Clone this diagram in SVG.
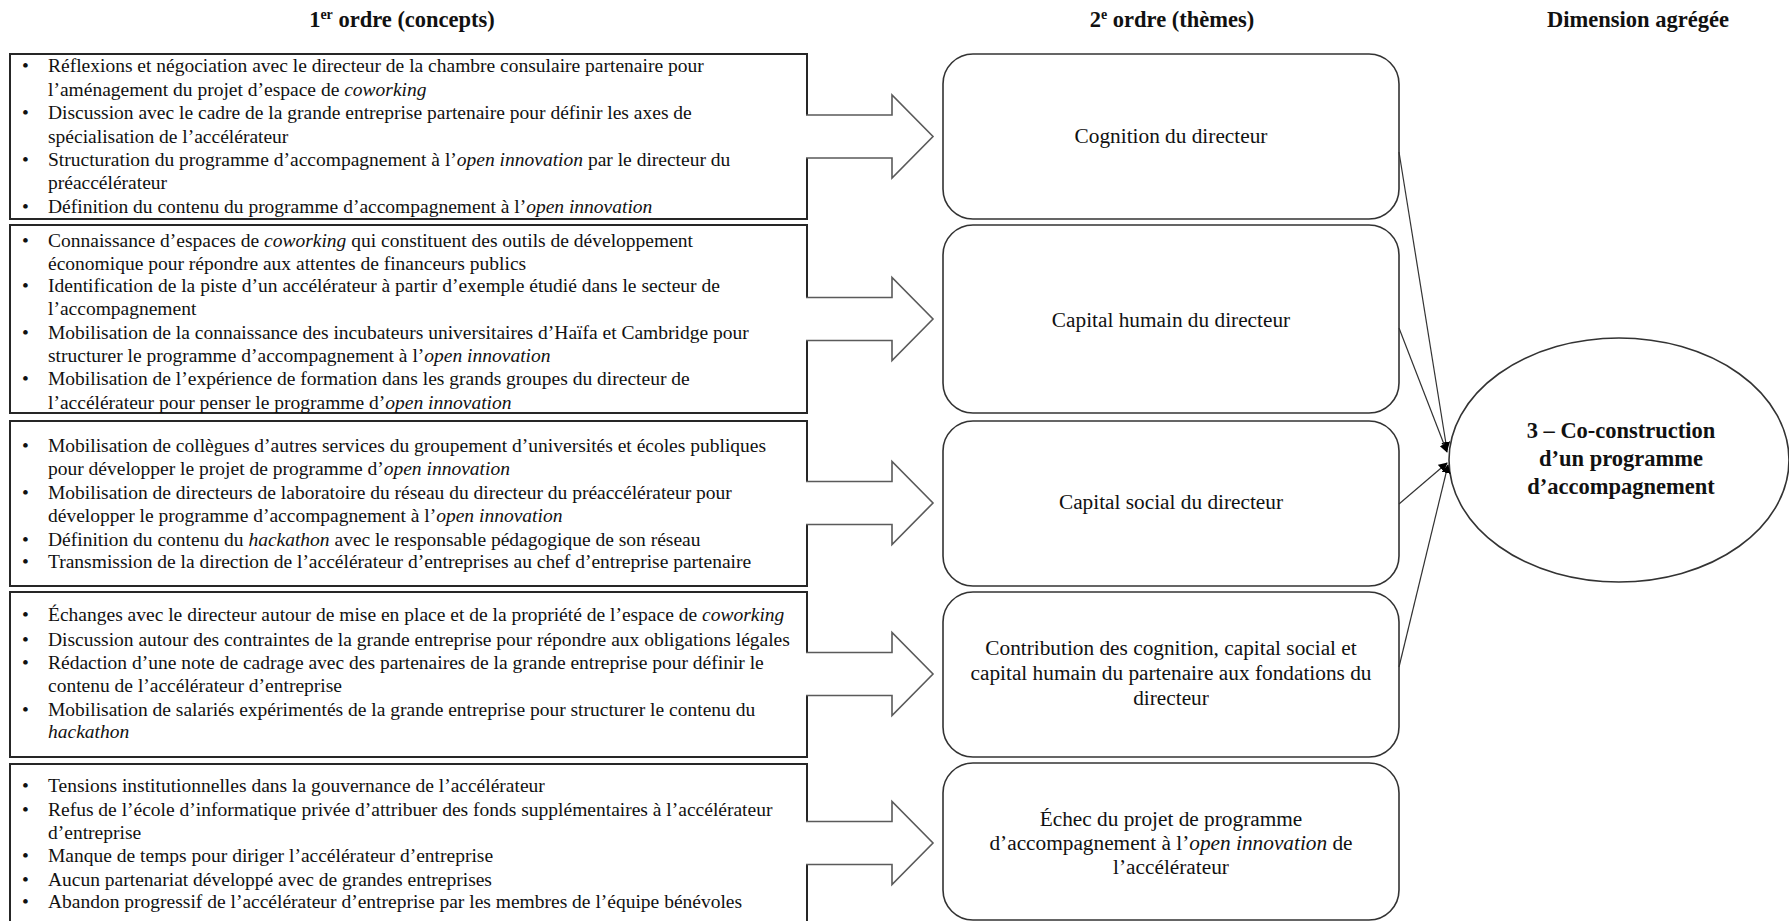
<svg xmlns="http://www.w3.org/2000/svg" width="1789" height="921" viewBox="0 0 1789 921">
  <style>
    .bg { fill: #ffffff; }
    .concept { fill: #ffffff; stroke: #262626; stroke-width: 2; }
    .theme { fill: #ffffff; stroke: #333333; stroke-width: 1.6; }
    .dim { fill: #ffffff; stroke: #333333; stroke-width: 1.6; }
    .blockarrow { fill: #ffffff; stroke: #5a5a5a; stroke-width: 1.6; }
    .link { fill: none; stroke: #333333; stroke-width: 1.2; }
    text { font-family: "Liberation Serif", "Times New Roman", serif; fill: #111111; }
    .head { font-size: 22.5px; font-weight: bold; text-anchor: middle; }
    .body { font-size: 19.5px; }
    .tl { font-size: 21.3px; text-anchor: middle; }
    .agg { font-size: 22.5px; font-weight: bold; text-anchor: middle; }
    .it { font-style: italic; }
  </style>
  <defs>
    <marker id="tip" viewBox="0 0 10 10" refX="9" refY="5" markerWidth="9" markerHeight="9" markerUnits="userSpaceOnUse" orient="auto">
      <path d="M0,0 L10,5 L0,10 Z" fill="#000000"/>
    </marker>
  </defs>

  <rect class="bg" x="0" y="0" width="1789" height="921"/>

  <!-- column headings -->
  <g id="headings">
    <text class="head" x="402" y="27">1<tspan font-size="14px" dy="-8">er</tspan><tspan dy="8"> ordre (concepts)</tspan></text>
    <text class="head" x="1172" y="27">2<tspan font-size="14px" dy="-8">e</tspan><tspan dy="8"> ordre (thèmes)</tspan></text>
    <text class="head" x="1638" y="27">Dimension agrégée</text>
  </g>

  <!-- first-order concepts -->
  <g id="concept-1">
    <rect class="concept" x="10" y="54" width="797" height="165"/>
    <g class="body">
      <text x="22" y="72">•</text><text x="48" y="72">Réflexions et négociation avec le directeur de la chambre consulaire partenaire pour</text>
      <text x="48" y="96">l’aménagement du projet d’espace de <tspan class="it">coworking</tspan></text>
      <text x="22" y="119">•</text><text x="48" y="119">Discussion avec le cadre de la grande entreprise partenaire pour définir les axes de</text>
      <text x="48" y="143">spécialisation de l’accélérateur</text>
      <text x="22" y="166">•</text><text x="48" y="166">Structuration du programme d’accompagnement à l’<tspan class="it">open innovation</tspan> par le directeur du</text>
      <text x="48" y="189">préaccélérateur</text>
      <text x="22" y="213">•</text><text x="48" y="213">Définition du contenu du programme d’accompagnement à l’<tspan class="it">open innovation</tspan></text>
    </g>
  </g>

  <g id="concept-2">
    <rect class="concept" x="10" y="225" width="797" height="188"/>
    <g class="body">
      <text x="22" y="247">•</text><text x="48" y="247">Connaissance d’espaces de <tspan class="it">coworking</tspan> qui constituent des outils de développement</text>
      <text x="48" y="270">économique pour répondre aux attentes de financeurs publics</text>
      <text x="22" y="292">•</text><text x="48" y="292">Identification de la piste d’un accélérateur à partir d’exemple étudié dans le secteur de</text>
      <text x="48" y="315">l’accompagnement</text>
      <text x="22" y="339">•</text><text x="48" y="339">Mobilisation de la connaissance des incubateurs universitaires d’Haïfa et Cambridge pour</text>
      <text x="48" y="362">structurer le programme d’accompagnement à l’<tspan class="it">open innovation</tspan></text>
      <text x="22" y="385">•</text><text x="48" y="385">Mobilisation de l’expérience de formation dans les grands groupes du directeur de</text>
      <text x="48" y="409">l’accélérateur pour penser le programme d’<tspan class="it">open innovation</tspan></text>
    </g>
  </g>

  <g id="concept-3">
    <rect class="concept" x="10" y="421" width="797" height="165"/>
    <g class="body">
      <text x="22" y="452">•</text><text x="48" y="452">Mobilisation de collègues d’autres services du groupement d’universités et écoles publiques</text>
      <text x="48" y="475">pour développer le projet de programme d’<tspan class="it">open innovation</tspan></text>
      <text x="22" y="499">•</text><text x="48" y="499">Mobilisation de directeurs de laboratoire du réseau du directeur du préaccélérateur pour</text>
      <text x="48" y="522">développer le programme d’accompagnement à l’<tspan class="it">open innovation</tspan></text>
      <text x="22" y="546">•</text><text x="48" y="546">Définition du contenu du <tspan class="it">hackathon</tspan> avec le responsable pédagogique de son réseau</text>
      <text x="22" y="568">•</text><text x="48" y="568">Transmission de la direction de l’accélérateur d’entreprises au chef d’entreprise partenaire</text>
    </g>
  </g>

  <g id="concept-4">
    <rect class="concept" x="10" y="592" width="797" height="165"/>
    <g class="body">
      <text x="22" y="621">•</text><text x="48" y="621">Échanges avec le directeur autour de mise en place et de la propriété de l’espace de <tspan class="it">coworking</tspan></text>
      <text x="22" y="646">•</text><text x="48" y="646">Discussion autour des contraintes de la grande entreprise pour répondre aux obligations légales</text>
      <text x="22" y="669">•</text><text x="48" y="669">Rédaction d’une note de cadrage avec des partenaires de la grande entreprise pour définir le</text>
      <text x="48" y="692">contenu de l’accélérateur d’entreprise</text>
      <text x="22" y="716">•</text><text x="48" y="716">Mobilisation de salariés expérimentés de la grande entreprise pour structurer le contenu du</text>
      <text x="48" y="738"><tspan class="it">hackathon</tspan></text>
    </g>
  </g>

  <g id="concept-5">
    <rect class="concept" x="10" y="764" width="797" height="180"/>
    <g class="body">
      <text x="22" y="792">•</text><text x="48" y="792">Tensions institutionnelles dans la gouvernance de l’accélérateur</text>
      <text x="22" y="816">•</text><text x="48" y="816">Refus de l’école d’informatique privée d’attribuer des fonds supplémentaires à l’accélérateur</text>
      <text x="48" y="839">d’entreprise</text>
      <text x="22" y="862">•</text><text x="48" y="862">Manque de temps pour diriger l’accélérateur d’entreprise</text>
      <text x="22" y="886">•</text><text x="48" y="886">Aucun partenariat développé avec de grandes entreprises</text>
      <text x="22" y="908">•</text><text x="48" y="908">Abandon progressif de l’accélérateur d’entreprise par les membres de l’équipe bénévoles</text>
    </g>
  </g>

  <!-- second-order themes -->
  <g id="theme-1">
    <rect class="theme" x="943" y="54" width="456" height="165" rx="30" ry="30"/>
    <text class="tl" x="1171" y="143">Cognition du directeur</text>
  </g>
  <g id="theme-2">
    <rect class="theme" x="943" y="225" width="456" height="188" rx="30" ry="30"/>
    <text class="tl" x="1171" y="327">Capital humain du directeur</text>
  </g>
  <g id="theme-3">
    <rect class="theme" x="943" y="421" width="456" height="165" rx="30" ry="30"/>
    <text class="tl" x="1171" y="509">Capital social du directeur</text>
  </g>
  <g id="theme-4">
    <rect class="theme" x="943" y="592" width="456" height="165" rx="30" ry="30"/>
    <text class="tl" x="1171" y="655">Contribution des cognition, capital social et</text>
    <text class="tl" x="1171" y="680">capital humain du partenaire aux fondations du</text>
    <text class="tl" x="1171" y="705">directeur</text>
  </g>
  <g id="theme-5">
    <rect class="theme" x="943" y="763" width="456" height="157" rx="30" ry="30"/>
    <text class="tl" x="1171" y="826">Échec du projet de programme</text>
    <text class="tl" x="1171" y="850">d’accompagnement à l’<tspan class="it">open innovation</tspan> de</text>
    <text class="tl" x="1171" y="874">l’accélérateur</text>
  </g>

  <!-- aggregate dimension -->
  <g id="dimension">
    <ellipse class="dim" cx="1619" cy="460" rx="170" ry="122"/>
    <text class="agg" x="1621" y="438">3 – Co-construction</text>
    <text class="agg" x="1621" y="466">d’un programme</text>
    <text class="agg" x="1621" y="494">d’accompagnement</text>
  </g>

  <!-- connectors: block arrows concept → theme, lines theme → dimension -->
  <g id="connectors">
    <path class="blockarrow" d="M806,115 H892 V95 L933,136.5 L892,178 V158 H806"/>
    <path class="blockarrow" d="M806,297.5 H892 V277.5 L933,319 L892,360.5 V340.5 H806"/>
    <path class="blockarrow" d="M806,481.5 H892 V461.5 L933,503 L892,544.5 V524.5 H806"/>
    <path class="blockarrow" d="M806,652.5 H892 V632.5 L933,674 L892,715.5 V695.5 H806"/>
    <path class="blockarrow" d="M806,821.5 H892 V801.5 L933,843 L892,884.5 V864.5 H806"/>
    <line class="link" x1="1399" y1="152" x2="1447" y2="450" marker-end="url(#tip)"/>
    <line class="link" x1="1399" y1="328" x2="1447" y2="452" marker-end="url(#tip)"/>
    <line class="link" x1="1399" y1="504" x2="1447" y2="463" marker-end="url(#tip)"/>
    <line class="link" x1="1399" y1="667" x2="1448" y2="465" marker-end="url(#tip)"/>
  </g>
</svg>
